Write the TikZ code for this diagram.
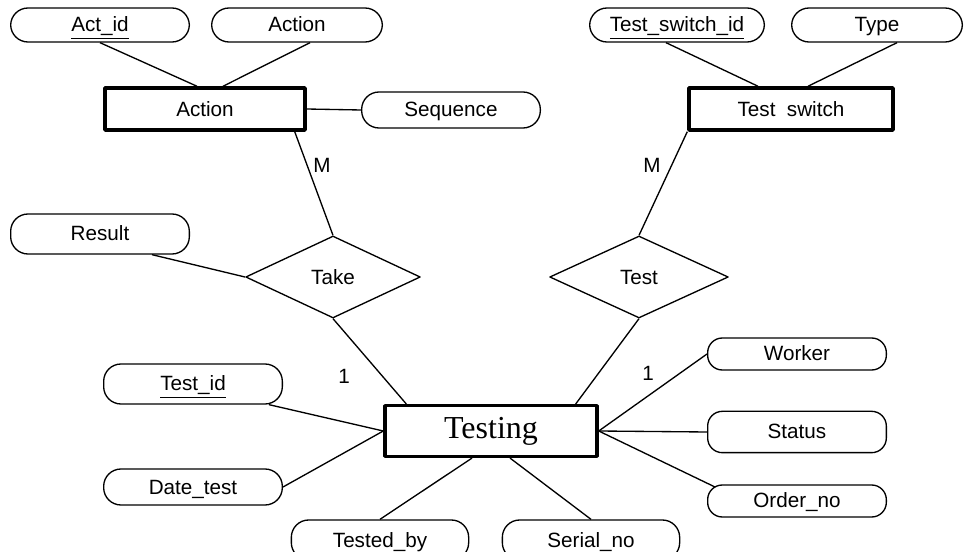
\documentclass[tikz,border=0pt]{standalone}
\usepackage{fontspec}
\setmainfont{Liberation Sans}
\newfontfamily\serifent{Liberation Serif}
\usetikzlibrary{positioning, shapes, calc}
\tikzset{
	attr/.style={draw, line width=1pt, rounded corners=13pt, minimum width=134pt, minimum height=27pt, inner sep=0pt, text height=10.5pt, text depth=0pt},
	entity/.style={draw, line width=2.6pt, minimum width=150pt, minimum height=31.5pt, inner sep=0pt},
	rel/.style={draw, diamond, line width=1pt, minimum width=131pt, minimum height=61.5pt, inner sep=0pt},
	link/.style={line width=1pt},
}

\begin{document}
\begin{tikzpicture}[x=0.75pt,y=-0.75pt,line join=round,font=\fontsize{15.5pt}{18pt}\selectfont]
		\useasboundingbox (0,0) rectangle (965,552);
		% entities and relations
		\node[entity] (action)  at (205,109) {Action};
		\node[entity,minimum width=153pt] (tswitch) at (791,109) {Test\ \ switch};
		\node[entity,minimum width=159pt,minimum height=38pt] (testing) at (491,431) {\serifent\fontsize{24pt}{28pt}\selectfont Testing};
		\node[rel] (take) at (333,277) {Take};
		\node[rel,minimum width=134pt] (test) at (639,277) {Test};
		% attributes
		\node[attr,minimum height=25.5pt] (actid)   at (100,25) {\underline{Act\_id}};
		\node[attr,minimum height=25.5pt,minimum width=128pt] (actname) at (297,25) {Action};
		\node[attr] (seq)     at (451,110) {Sequence};
		\node[attr,minimum height=25.5pt,minimum width=131pt] (tsid) at (677,25) {\underline{Test\_switch\_id}};
		\node[attr,minimum height=25.5pt,minimum width=128pt] (type) at (877,25) {Type};
		\node[attr,minimum height=30pt] (result)  at (100,234) {Result};
		\node[attr,minimum height=30pt] (testid)  at (193,384) {\underline{Test\_id}};
		\node[attr] (datetest) at (193,487) {Date\_test};
		\node[attr,minimum height=30pt,minimum width=133pt] (testedby) at (380,540) {Tested\_by};
		\node[attr,minimum height=30pt,minimum width=133pt] (serialno) at (591,540) {Serial\_no};
		\foreach \n/\y/\h/\t in {worker/354/24pt/Worker, status/432/31pt/Status, orderno/501/24pt/Order\_no}
		{
			\node[attr,minimum height=\h,rounded corners=11pt] (\n) at (797,\y) {\t};
		}
		% links
		\draw[link] (actid.south) -- ($(action.north)+(-8,0)$);
		\draw[link] ($(actname.south)+(13,0)$) -- ($(action.north)+(18,0)$);
		\draw[link] (action.east) -- (seq.west);
		\draw[link] ($(tsid.south)+(-11,0)$) -- ($(tswitch.north)+(-33,0)$);
		\draw[link] ($(type.south)+(20,0)$) -- ($(tswitch.north)+(17,0)$);
		\draw[link] ($(action.south east)+(-12,0)$) -- (take.north);
		\draw[link] (tswitch.south west) -- (test.north);
		\draw[link] ($(result.south)+(52,0)$) -- (take.west);
		\draw[link] (take.south) -- ($(testing.north west)+(23,0)$);
		\draw[link] (test.south) -- ($(testing.north east)+(-23,0)$);
		\draw[link] ($(testid.south)+(76,0)$) -- (testing.west);
		\draw[link] (datetest.east) -- (testing.west);
		\draw[link] (testedby.north) -- ($(testing.south)+(-19,0)$);
		\draw[link] (serialno.north) -- ($(testing.south)+(19,0)$);
		\draw[link] (testing.east) -- (worker.west);
		\draw[link] (testing.east) -- (status.west);
		\draw[link] (testing.east) -- ($(orderno.west)+(8,-14)$);
		% cardinalities
		\node (m1) at (322,165) {M};
		\node (m2) at (652,165) {M};
		\node (o1) at (344,376) {1};
		\node (o2) at (648,373) {1};
	\end{tikzpicture}
\end{document}
